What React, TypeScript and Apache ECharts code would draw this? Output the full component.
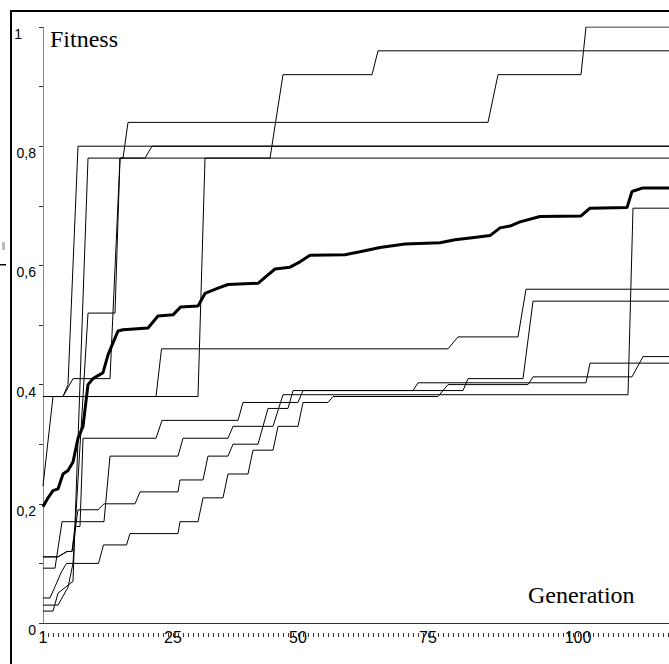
import React, { useEffect, useRef } from "react";
import * as echarts from "echarts";

// ---- tick labels ----
const xTickValues = [1, 27, 52, 78, 108];
const xTickLabels = ["1", "25", "50", "75", "100"];
const yTickValues = [0, 0.2, 0.4, 0.6, 0.8, 1];
const yTickLabels = ["0", "0,2", "0,4", "0,6", "0,8", "1"];
const firstGeneration = 1;
const lastTickGeneration = 126;
const visibleGenerations = 125.2;

// ---- series: [generation, fitness] breakpoints ----
const average = [[1,.195],[2,.21],[3,.222],[4,.225],[5,.25],[6,.256],[7,.27],[8,.31],[9,.33],[10,.40],[11,.41],[12,.415],[13,.42],[14,.45],[15,.47],[16,.49],[17,.492],[22,.495],[24,.515],[27,.517],[28.5,.53],[32,.532],[33.4,.553],[36,.562],[38,.568],[44,.57],[45.4,.58],[47.4,.594],[50.4,.597],[52.4,.606],[54.4,.617],[61.4,.618],[64.4,.623],[68.4,.63],[73.4,.636],[80.4,.638],[83.4,.643],[86.4,.646],[90.4,.65],[92.4,.663],[94.4,.666],[96.4,.673],[100.4,.682],[108.6,.683],[110.4,.696],[117.8,.697],[118.8,.724],[121,.73],[127,.73]];
const runA = [[1,.38],[5,.38],[6,.40],[8,.80],[127,.80]];
const runP = [[1,.38],[5,.38],[7,.41],[14.4,.41],[16.4,.78],[17,.78],[18,.84],[90,.84],[92,.92],[108.6,.92],[109.6,1.0],[127,1.0]];
const runR = [[1,.02],[3,.02],[4,.05],[7,.07],[10,.78],[46.4,.78],[49,.92],[66.8,.92],[68,.96],[127,.96]];
const runS = [[1,.03],[4,.03],[6,.06],[7,.10],[10,.52],[15.4,.52],[16.4,.78],[21.4,.78],[22.8,.80],[127,.80]];
const runT = [[1,.23],[3,.38],[32,.38],[33.4,.78],[127,.78]];
const runL = [[1,.38],[23.6,.38],[24.7,.46],[82,.46],[84,.48],[96,.48],[97.6,.56],[127,.56]];
const runI = [[1,.111],[4,.111],[5.8,.12],[6.8,.12],[7.4,.162],[8.4,.162],[9,.31],[23.6,.31],[24.8,.34],[40,.34],[41,.37],[52,.37],[53,.39],[85,.39],[86,.41],[97,.41],[99,.54],[127,.54]];
const runII = [[1,.092],[3.4,.092],[4.8,.17],[13.2,.17],[14.4,.28],[28,.28],[29,.31],[38,.31],[39,.33],[47,.33],[49,.383],[118,.383],[119,.696],[127,.696]];
const runIII = [[1,.111],[4,.111],[5.8,.12],[6.8,.12],[8,.19],[12,.19],[13.2,.20],[19.4,.20],[20.4,.22],[28,.22],[28.4,.24],[33,.24],[34,.28],[38,.28],[39,.30],[44,.30],[46,.36],[50,.36],[51,.39],[75,.39],[76,.403],[109.6,.403],[110.4,.436],[127,.436]];
const runIV = [[1,.042],[2.4,.042],[3.4,.061],[4.7,.086],[5.7,.10],[12.1,.10],[13.1,.131],[17.7,.131],[18.4,.15],[28,.15],[28.4,.17],[32,.17],[33,.21],[37,.21],[38,.25],[42,.25],[43,.29],[47,.29],[48,.33],[52,.33],[53,.37],[58,.37],[59,.38],[80,.38],[82,.40],[98,.40],[99,.413],[118.8,.413],[121,.447],[127,.447]];

const thinRuns = [runA, runP, runR, runS, runT, runL, runI, runII, runIII, runIV];

// axis value = generations elapsed since the first one
const toAxis = (d: number[][]) => d.map(([g, v]) => [g - firstGeneration, v]);

export default function App() {
  const ref = useRef<HTMLDivElement>(null);
  useEffect(() => {
    if (!ref.current) return;
    const chart = echarts.init(ref.current, null, { renderer: "svg" });
    const labelPos = xTickValues.map((g) => g - firstGeneration);
    const generationNames: string[] = [];
    for (let g = firstGeneration; g <= lastTickGeneration; g++) generationNames.push(String(g));
    const series: any[] = thinRuns.map((d) => ({
      type: "line",
      data: toAxis(d),
      xAxisIndex: 0,
      yAxisIndex: 0,
      showSymbol: false,
      symbol: "none",
      lineStyle: { color: "#000", width: 1 },
      z: 2,
    }));
    series.push({
      type: "line",
      data: toAxis(average),
      xAxisIndex: 0,
      yAxisIndex: 0,
      showSymbol: false,
      symbol: "none",
      lineStyle: { color: "#000", width: 3 },
      z: 3,
    });
    chart.setOption({
      animation: false,
      backgroundColor: "#fff",
      grid: [
        { left: 43, top: 27, right: 0, bottom: 41, outerBoundsMode: "none" },
        { left: 43, top: 627, width: (lastTickGeneration - firstGeneration) * 5, height: 10, outerBoundsMode: "none" },
      ],
      xAxis: [
        {
          type: "value",
          gridIndex: 0,
          min: 0,
          max: visibleGenerations,
          interval: 5,
          axisLine: { show: true, onZero: false, lineStyle: { color: "#333", width: 1 } },
          axisTick: { show: false },
          splitLine: { show: false },
          axisLabel: {
            show: true,
            margin: 6,
            customValues: labelPos,
            fontFamily: "Liberation Sans, Arial, sans-serif",
            fontSize: 16,
            color: "#000",
            formatter: (v: number) => {
              const i = labelPos.findIndex((t) => Math.abs(t - v) < 1e-6);
              return i >= 0 ? xTickLabels[i] : "";
            },
          },
        },
        {
          type: "category",
          gridIndex: 1,
          position: "top",
          data: generationNames,
          boundaryGap: false,
          axisLine: { show: false },
          axisTick: { show: true, interval: 0, length: 4, lineStyle: { color: "#333" } },
          axisLabel: { show: false },
          splitLine: { show: false },
        },
      ],
      yAxis: [
        {
          type: "value",
          gridIndex: 0,
          min: 0,
          max: 1,
          interval: 0.1,
          axisLine: { show: true, lineStyle: { color: "#888", width: 1 } },
          axisTick: { show: true, length: 4, lineStyle: { color: "#333" } },
          splitLine: { show: false },
          axisLabel: {
            show: true,
            margin: 7,
            verticalAlign: "top",
            fontFamily: "Liberation Sans, Arial, sans-serif",
            fontSize: 14,
            color: "#000",
            formatter: (v: number) => {
              const i = yTickValues.findIndex((t) => Math.abs(t - v) < 1e-6);
              if (i < 0) return "";
              return i === yTickValues.length - 1 ? "{one|" + yTickLabels[i] + "}" : yTickLabels[i];
            },
            rich: {
              one: { fontFamily: "Liberation Sans, Arial, sans-serif", fontSize: 14, color: "#000", padding: [0, 14, 0, 0] },
            },
          },
        },
        {
          type: "value",
          gridIndex: 1,
          show: false,
          min: 0,
          max: 1,
        },
      ],
      graphic: [
        { type: "rect", shape: { x: 11, y: 11, width: 720, height: 720 }, style: { fill: "none", stroke: "#000", lineWidth: 2 }, silent: true },
        { type: "rect", shape: { x: 2, y: 242, width: 3, height: 8 }, style: { fill: "#bbb" } },
        { type: "rect", shape: { x: 0, y: 264, width: 6, height: 1.5 }, style: { fill: "#000" } },
        { type: "text", x: 50, y: 27, style: { text: "Fitness", fontFamily: "Liberation Serif, Times New Roman, serif", fontSize: 24, fill: "#000", verticalAlign: "top" } },
        { type: "text", x: 528, y: 583, style: { text: "Generation", fontFamily: "Liberation Serif, Times New Roman, serif", fontSize: 24, fill: "#000", verticalAlign: "top" } },
      ],
      series,
    });
    return () => chart.dispose();
  }, []);
  return <div ref={ref} style={{ position: "fixed", left: 0, top: 0, width: 669, height: 664, background: "#fff" }} />;
}
